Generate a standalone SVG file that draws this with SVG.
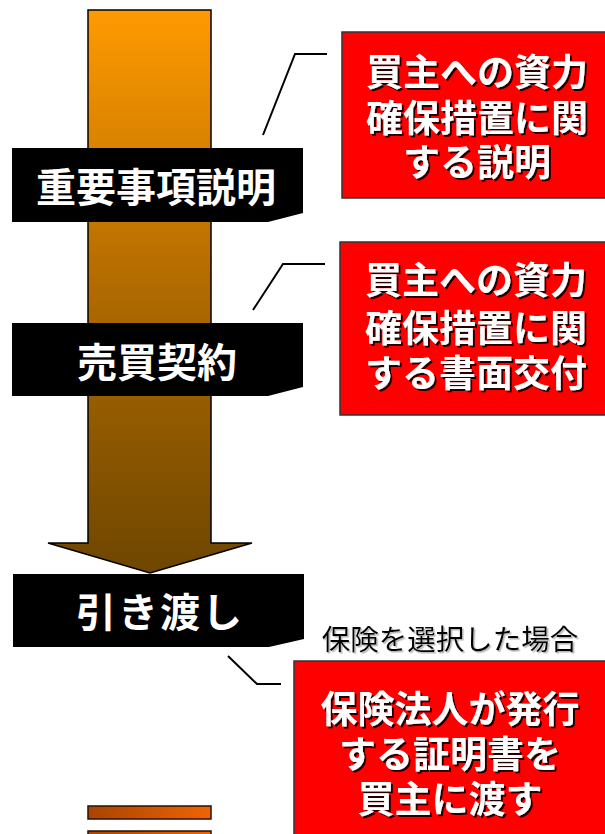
<svg xmlns="http://www.w3.org/2000/svg" width="605" height="834" viewBox="0 0 605 834">
<defs>
<linearGradient id="arrowGrad" x1="0" y1="10" x2="0" y2="573" gradientUnits="userSpaceOnUse">
<stop offset="0" stop-color="#FF9A00"/>
<stop offset="0.5" stop-color="#B06A00"/>
<stop offset="1" stop-color="#6E4600"/>
</linearGradient>
<linearGradient id="barGrad" x1="0" y1="0" x2="1" y2="0">
<stop offset="0" stop-color="#A84400"/>
<stop offset="1" stop-color="#F06400"/>
</linearGradient>
<filter id="shadow" x="-10%" y="-10%" width="130%" height="130%">
<feDropShadow dx="2" dy="2" stdDeviation="0.6" flood-color="#000" flood-opacity="0.85"/>
</filter>
<filter id="softshadow" x="-10%" y="-10%" width="130%" height="130%">
<feDropShadow dx="1.5" dy="1.5" stdDeviation="0.5" flood-color="#999" flood-opacity="0.7"/>
</filter>
</defs>
<style>
.banner{fill:#000}
.btext{fill:#fff;font-family:"Noto Sans CJK JP",sans-serif;font-weight:bold;font-size:40px;text-anchor:middle;dominant-baseline:central}
.redbox{fill:#FF0000;stroke:#333;stroke-width:1.5}
.rtext{fill:#fff;font-family:"Noto Sans CJK JP",sans-serif;font-weight:bold;font-size:37px;text-anchor:middle;dominant-baseline:central;filter:url(#shadow)}
.note{fill:#000;font-family:"Noto Sans CJK JP",sans-serif;font-size:28.5px;text-anchor:middle;dominant-baseline:central;filter:url(#softshadow)}
.conn{fill:none;stroke:#000;stroke-width:2}
.bar{fill:url(#barGrad);stroke:#2a1000;stroke-width:1.5}
</style>

<g id="arrow">
<polygon points="88,10 211,10 211,543 252,543 150,573 48,543 88,543" fill="url(#arrowGrad)" stroke="#000" stroke-width="1.5"/>
</g>

<g id="bars">
<rect class="bar" x="88" y="806" width="123" height="13"/>
<rect class="bar" x="88" y="831" width="123" height="10"/>
</g>

<g id="connectors">
<polyline class="conn" points="327,54 295,54 263,135"/>
<polyline class="conn" points="325,264 283,264 253,310"/>
<polyline class="conn" points="228,656 257,684 281,684"/>
</g>

<g id="node-juyo">
<polygon class="banner" points="12,148 303,148 303,213 268,222 12,222"/>
<text class="btext" x="156" y="185">重要事項説明</text>
</g>

<g id="node-baibai">
<polygon class="banner" points="12,323 303,323 303,387 268,396 12,396"/>
<text class="btext" x="157" y="360">売買契約</text>
</g>

<g id="node-hikiwatashi">
<polygon class="banner" points="13,574 304,574 304,639 269,647 13,647"/>
<text class="btext" x="160" y="610" letter-spacing="2">引き渡し</text>
</g>

<g id="node-box1">
<rect class="redbox" x="342" y="32" width="270" height="166"/>
<text class="rtext" x="477" y="70">買主への資力</text>
<text class="rtext" x="477" y="116">確保措置に関</text>
<text class="rtext" x="477" y="160">する説明</text>
</g>

<g id="node-box2">
<rect class="redbox" x="340" y="242" width="272" height="173"/>
<text class="rtext" x="476" y="278">買主への資力</text>
<text class="rtext" x="476" y="326">確保措置に関</text>
<text class="rtext" x="476" y="371">する書面交付</text>
</g>

<g id="node-note">
<text class="note" x="450" y="637">保険を選択した場合</text>
</g>

<g id="node-box3">
<rect class="redbox" x="294" y="661" width="318" height="185"/>
<text class="rtext" x="450" y="707">保険法人が発行</text>
<text class="rtext" x="450" y="752">する証明書を</text>
<text class="rtext" x="450" y="797">買主に渡す</text>
</g>
</svg>
